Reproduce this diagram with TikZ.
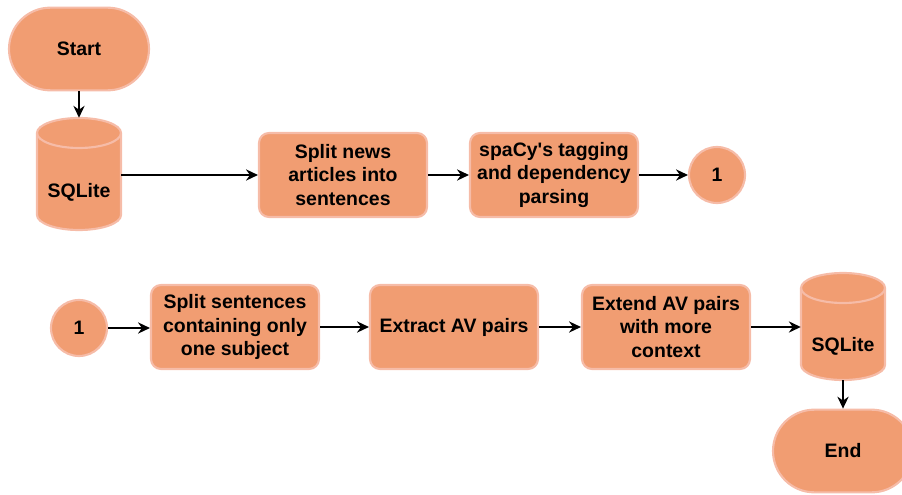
\documentclass[tikz,border=0pt]{standalone}
\usepackage{fontspec}
\setmainfont{Liberation Sans}
\usetikzlibrary{arrows.meta}
\definecolor{fil}{RGB}{241,157,114}
\definecolor{stk}{RGB}{246,188,168}
\tikzset{
  base/.style={draw=stk, fill=fil, line width=1.6pt, align=center, inner sep=0pt,
    font=\fontsize{14.6pt}{17.8pt}\selectfont\bfseries},
  procbox/.style={base, rectangle, rounded corners=7.5pt, minimum width=126pt, minimum height=63pt},
  termbox/.style={base, rectangle, rounded corners=31pt, minimum width=105pt, minimum height=62pt},
  connbox/.style={base, circle, minimum size=42pt},
  dbshape/.style={draw=stk, fill=fil, line width=1.6pt},
  dbline/.style={draw=stk, line width=1.6pt},
  dbnode/.style={rectangle, inner sep=0pt, minimum width=63pt, minimum height=84pt},
  dbtext/.style={inner sep=0pt, font=\fontsize{14.6pt}{17.8pt}\selectfont\bfseries},
  arr/.style={-{Stealth[length=9pt,width=8.5pt,inset=3pt]}, line width=0.9pt, black},
}
\begin{document}
\begin{tikzpicture}[x=0.75pt,y=-0.75pt]
\useasboundingbox (0,0) rectangle (902,495);
\clip (0,0) rectangle (902,495);

% Start
\node[termbox] (start) at (79,49) {Start};

% Cylinder 1
\path[dbshape] (37,133) -- (37,215)
  arc[start angle=180,end angle=360,x radius=31.5pt,y radius=11.25pt] -- (121,133)
  arc[start angle=0,end angle=180,x radius=31.5pt,y radius=11.25pt] -- cycle;
\draw[dbline] (37,133) arc[start angle=180,end angle=360,x radius=31.5pt,y radius=11.25pt];
\node[dbnode] (db1) at (79,174) {};
\node[dbtext] (db1t) at (79,192) {SQLite};

% Row 1
\node[procbox] (b1) at (343,175) {Split news\\articles into\\sentences};
\node[procbox] (b2) at (554,175) {spaCy\textquotesingle s tagging\\and dependency\\parsing};
\node[connbox] (c1) at (717,175) {1};

% Row 2
\node[connbox] (c2) at (79,328) {1};
\node[procbox] (b3) at (235,327) {Split sentences\\containing only\\one subject};
\node[procbox] (b4) at (454,327) {Extract AV pairs};
\node[procbox] (b5) at (666,327) {Extend AV pairs\\with more\\context};

% Cylinder 2
\path[dbshape] (801,288) -- (801,365)
  arc[start angle=180,end angle=360,x radius=31.5pt,y radius=11.25pt] -- (885,288)
  arc[start angle=0,end angle=180,x radius=31.5pt,y radius=11.25pt] -- cycle;
\draw[dbline] (801,288) arc[start angle=180,end angle=360,x radius=31.5pt,y radius=11.25pt];
\node[dbnode, minimum height=80.25pt] (db2) at (843,326.5) {};
\node[dbtext] (db2t) at (843,346) {SQLite};

% End
\node[termbox] (end) at (843,451) {End};

% Connectors
\draw[arr] (start.south) -- (db1.north);
\draw[arr] (db1.east |- b1.west) -- (b1.west);
\draw[arr] (b1.east) -- (b2.west);
\draw[arr] (b2.east) -- (c1.west);
\draw[arr] (c2.east) -- (c2.east -| b3.west);
\draw[arr] (b3.east) -- (b4.west);
\draw[arr] (b4.east) -- (b5.west);
\draw[arr] (b5.east) -- (b5.east -| db2.west);
\draw[arr] (db2.south) -- (end.north);
\end{tikzpicture}
\end{document}
